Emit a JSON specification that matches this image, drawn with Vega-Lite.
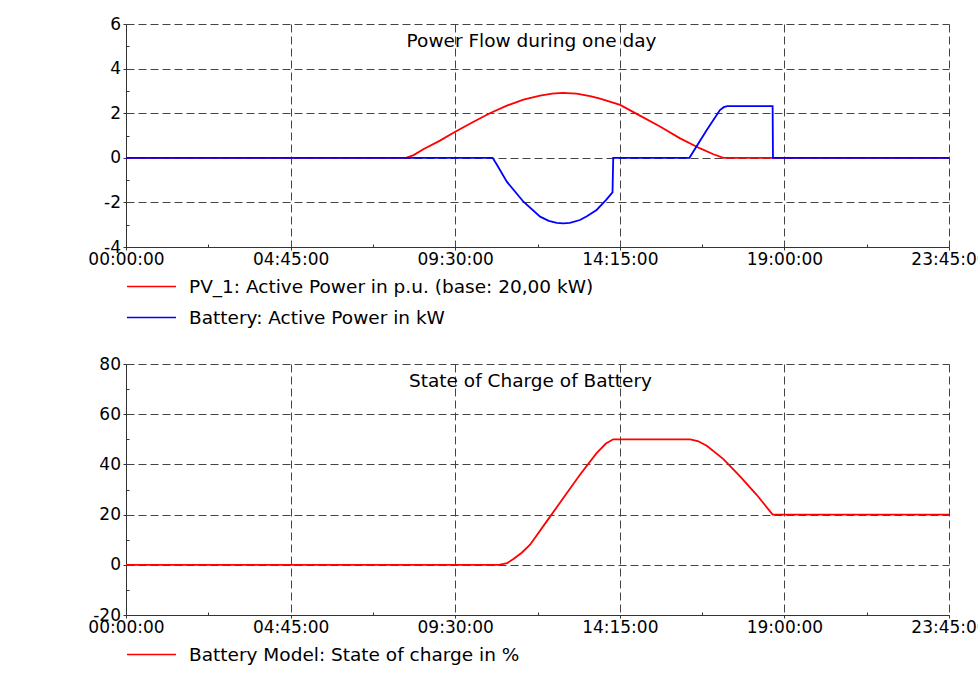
{
  "$schema": "https://vega.github.io/schema/vega-lite/v6.json",
  "background": "white",
  "padding": {"left": 87, "top": 15, "right": 0, "bottom": 0},
  "spacing": 22,
  "resolve": {"scale": {"color": "independent"}, "legend": {"color": "independent"}},
  "config": {
    "font": "DejaVu Sans",
    "view": {"stroke": null},
    "axis": {
      "domainColor": "#333333",
      "domainWidth": 1,
      "tickColor": "#333333",
      "labelColor": "black",
      "labelFont": "DejaVu Sans",
      "labelFontSize": 17,
      "labelOverlap": false,
      "labelFlush": false,
      "gridColor": "#444444",
      "gridDash": [8, 4],
      "gridWidth": 1,
      "title": null
    },
    "legend": {
      "orient": "bottom",
      "direction": "vertical",
      "title": null,
      "symbolType": "stroke",
      "symbolSize": 2401,
      "symbolStrokeWidth": 1.7,
      "clipHeight": 31,
      "rowPadding": 0,
      "labelOffset": 12,
      "labelFont": "DejaVu Sans",
      "labelFontSize": 18.5,
      "labelColor": "black",
      "labelLimit": 800,
      "offset": 4,
      "padding": 0
    },
    "title": {
      "font": "DejaVu Sans",
      "fontSize": 18.5,
      "fontWeight": "normal",
      "color": "black",
      "frame": "group",
      "anchor": "middle",
      "baseline": "alphabetic"
    }
  },
  "vconcat": [
    {
      "width": 823,
      "height": 223,
      "title": {"text": "Power Flow during one day", "offset": -35, "dx": -6},
      "data": {
        "values": [
          {"t": 0, "v": 0, "s": "PV_1: Active Power in p.u. (base: 20,00 kW)"},
          {"t": 8.08, "v": 0, "s": "PV_1: Active Power in p.u. (base: 20,00 kW)"},
          {"t": 8.3, "v": 0.12, "s": "PV_1: Active Power in p.u. (base: 20,00 kW)"},
          {"t": 8.58, "v": 0.38, "s": "PV_1: Active Power in p.u. (base: 20,00 kW)"},
          {"t": 9.06, "v": 0.77, "s": "PV_1: Active Power in p.u. (base: 20,00 kW)"},
          {"t": 9.5, "v": 1.17, "s": "PV_1: Active Power in p.u. (base: 20,00 kW)"},
          {"t": 10.03, "v": 1.62, "s": "PV_1: Active Power in p.u. (base: 20,00 kW)"},
          {"t": 10.5, "v": 2.0, "s": "PV_1: Active Power in p.u. (base: 20,00 kW)"},
          {"t": 10.99, "v": 2.34, "s": "PV_1: Active Power in p.u. (base: 20,00 kW)"},
          {"t": 11.47, "v": 2.61, "s": "PV_1: Active Power in p.u. (base: 20,00 kW)"},
          {"t": 11.95, "v": 2.79, "s": "PV_1: Active Power in p.u. (base: 20,00 kW)"},
          {"t": 12.3, "v": 2.88, "s": "PV_1: Active Power in p.u. (base: 20,00 kW)"},
          {"t": 12.6, "v": 2.91, "s": "PV_1: Active Power in p.u. (base: 20,00 kW)"},
          {"t": 13.0, "v": 2.88, "s": "PV_1: Active Power in p.u. (base: 20,00 kW)"},
          {"t": 13.39, "v": 2.77, "s": "PV_1: Active Power in p.u. (base: 20,00 kW)"},
          {"t": 13.68, "v": 2.65, "s": "PV_1: Active Power in p.u. (base: 20,00 kW)"},
          {"t": 14.26, "v": 2.37, "s": "PV_1: Active Power in p.u. (base: 20,00 kW)"},
          {"t": 14.83, "v": 1.89, "s": "PV_1: Active Power in p.u. (base: 20,00 kW)"},
          {"t": 15.41, "v": 1.4, "s": "PV_1: Active Power in p.u. (base: 20,00 kW)"},
          {"t": 15.99, "v": 0.87, "s": "PV_1: Active Power in p.u. (base: 20,00 kW)"},
          {"t": 16.57, "v": 0.42, "s": "PV_1: Active Power in p.u. (base: 20,00 kW)"},
          {"t": 16.95, "v": 0.16, "s": "PV_1: Active Power in p.u. (base: 20,00 kW)"},
          {"t": 17.24, "v": 0, "s": "PV_1: Active Power in p.u. (base: 20,00 kW)"},
          {"t": 23.75, "v": 0, "s": "PV_1: Active Power in p.u. (base: 20,00 kW)"},
          {"t": 0, "v": 0, "s": "Battery: Active Power in kW"},
          {"t": 10.58, "v": 0, "s": "Battery: Active Power in kW"},
          {"t": 10.7, "v": -0.3, "s": "Battery: Active Power in kW"},
          {"t": 10.99, "v": -1.07, "s": "Battery: Active Power in kW"},
          {"t": 11.47, "v": -1.97, "s": "Battery: Active Power in kW"},
          {"t": 11.95, "v": -2.64, "s": "Battery: Active Power in kW"},
          {"t": 12.2, "v": -2.83, "s": "Battery: Active Power in kW"},
          {"t": 12.43, "v": -2.92, "s": "Battery: Active Power in kW"},
          {"t": 12.62, "v": -2.94, "s": "Battery: Active Power in kW"},
          {"t": 12.81, "v": -2.92, "s": "Battery: Active Power in kW"},
          {"t": 13.1, "v": -2.79, "s": "Battery: Active Power in kW"},
          {"t": 13.3, "v": -2.62, "s": "Battery: Active Power in kW"},
          {"t": 13.58, "v": -2.34, "s": "Battery: Active Power in kW"},
          {"t": 13.85, "v": -1.9, "s": "Battery: Active Power in kW"},
          {"t": 14.04, "v": -1.55, "s": "Battery: Active Power in kW"},
          {"t": 14.06, "v": 0, "s": "Battery: Active Power in kW"},
          {"t": 16.26, "v": 0, "s": "Battery: Active Power in kW"},
          {"t": 16.76, "v": 1.25, "s": "Battery: Active Power in kW"},
          {"t": 17.14, "v": 2.14, "s": "Battery: Active Power in kW"},
          {"t": 17.25, "v": 2.27, "s": "Battery: Active Power in kW"},
          {"t": 17.35, "v": 2.32, "s": "Battery: Active Power in kW"},
          {"t": 18.66, "v": 2.32, "s": "Battery: Active Power in kW"},
          {"t": 18.67, "v": 0, "s": "Battery: Active Power in kW"},
          {"t": 23.75, "v": 0, "s": "Battery: Active Power in kW"}
        ]
      },
      "mark": {"type": "line", "strokeWidth": 1.8},
      "encoding": {
        "x": {
          "field": "t", "type": "quantitative",
          "scale": {"domain": [0, 23.75], "nice": false, "zero": false},
          "axis": {
            "values": [0, 2.375, 4.75, 7.125, 9.5, 11.875, 14.25, 16.625, 19, 21.375, 23.75],
            "labelExpr": "datum.value % 4.75 !== 0 ? '' : utcFormat(datum.value * 3600000, '%H:%M:%S')",
            "tickSize": {"condition": {"test": "datum.value % 4.75 !== 0", "value": -3}, "value": 3},
            "gridOpacity": {"condition": {"test": "datum.value % 4.75 !== 0", "value": 0}, "value": 1},
            "labelPadding": 1
          }
        },
        "y": {
          "field": "v", "type": "quantitative",
          "scale": {"domain": [-4, 6], "nice": false, "zero": false},
          "axis": {
            "values": [-4, -3, -2, -1, 0, 1, 2, 3, 4, 5, 6],
            "labelExpr": "datum.value % 2 !== 0 ? '' : '' + datum.value",
            "tickSize": {"condition": {"test": "datum.value % 2 !== 0", "value": -3}, "value": 3},
            "gridOpacity": {"condition": {"test": "datum.value % 2 !== 0", "value": 0}, "value": 1},
            "labelPadding": 2.5
          }
        },
        "color": {
          "field": "s", "type": "nominal",
          "scale": {
            "domain": ["PV_1: Active Power in p.u. (base: 20,00 kW)", "Battery: Active Power in kW"],
            "range": ["#ff0000", "#0000ff"]
          }
        }
      }
    },
    {
      "width": 823,
      "height": 251,
      "title": {"text": "State of Charge of Battery", "offset": -35, "dx": -7},
      "data": {
        "values": [
          {"t": 0, "v": 0, "s": "Battery Model: State of charge in %"},
          {"t": 10.76, "v": 0, "s": "Battery Model: State of charge in %"},
          {"t": 11.0, "v": 0.7, "s": "Battery Model: State of charge in %"},
          {"t": 11.18, "v": 2.3, "s": "Battery Model: State of charge in %"},
          {"t": 11.42, "v": 4.8, "s": "Battery Model: State of charge in %"},
          {"t": 11.66, "v": 8, "s": "Battery Model: State of charge in %"},
          {"t": 12.14, "v": 17.3, "s": "Battery Model: State of charge in %"},
          {"t": 12.62, "v": 26.6, "s": "Battery Model: State of charge in %"},
          {"t": 13.1, "v": 35.9, "s": "Battery Model: State of charge in %"},
          {"t": 13.58, "v": 44.5, "s": "Battery Model: State of charge in %"},
          {"t": 13.85, "v": 48.3, "s": "Battery Model: State of charge in %"},
          {"t": 14.06, "v": 50, "s": "Battery Model: State of charge in %"},
          {"t": 16.28, "v": 50, "s": "Battery Model: State of charge in %"},
          {"t": 16.5, "v": 49.3, "s": "Battery Model: State of charge in %"},
          {"t": 16.76, "v": 47.4, "s": "Battery Model: State of charge in %"},
          {"t": 17.24, "v": 42.1, "s": "Battery Model: State of charge in %"},
          {"t": 17.72, "v": 35.2, "s": "Battery Model: State of charge in %"},
          {"t": 18.2, "v": 27.9, "s": "Battery Model: State of charge in %"},
          {"t": 18.66, "v": 20, "s": "Battery Model: State of charge in %"},
          {"t": 23.75, "v": 20, "s": "Battery Model: State of charge in %"}
        ]
      },
      "mark": {"type": "line", "strokeWidth": 1.8},
      "encoding": {
        "x": {
          "field": "t", "type": "quantitative",
          "scale": {"domain": [0, 23.75], "nice": false, "zero": false},
          "axis": {
            "values": [0, 2.375, 4.75, 7.125, 9.5, 11.875, 14.25, 16.625, 19, 21.375, 23.75],
            "labelExpr": "datum.value % 4.75 !== 0 ? '' : utcFormat(datum.value * 3600000, '%H:%M:%S')",
            "tickSize": {"condition": {"test": "datum.value % 4.75 !== 0", "value": -3}, "value": 3},
            "gridOpacity": {"condition": {"test": "datum.value % 4.75 !== 0", "value": 0}, "value": 1},
            "labelPadding": 1
          }
        },
        "y": {
          "field": "v", "type": "quantitative",
          "scale": {"domain": [-20, 80], "nice": false, "zero": false},
          "axis": {
            "values": [-20, -10, 0, 10, 20, 30, 40, 50, 60, 70, 80],
            "labelExpr": "datum.value % 20 !== 0 ? '' : '' + datum.value",
            "tickSize": {"condition": {"test": "datum.value % 20 !== 0", "value": -3}, "value": 3},
            "gridOpacity": {"condition": {"test": "datum.value % 20 !== 0", "value": 0}, "value": 1},
            "labelPadding": 2.5
          }
        },
        "color": {
          "field": "s", "type": "nominal",
          "scale": {"domain": ["Battery Model: State of charge in %"], "range": ["#ff0000"]}
        }
      }
    }
  ]
}
